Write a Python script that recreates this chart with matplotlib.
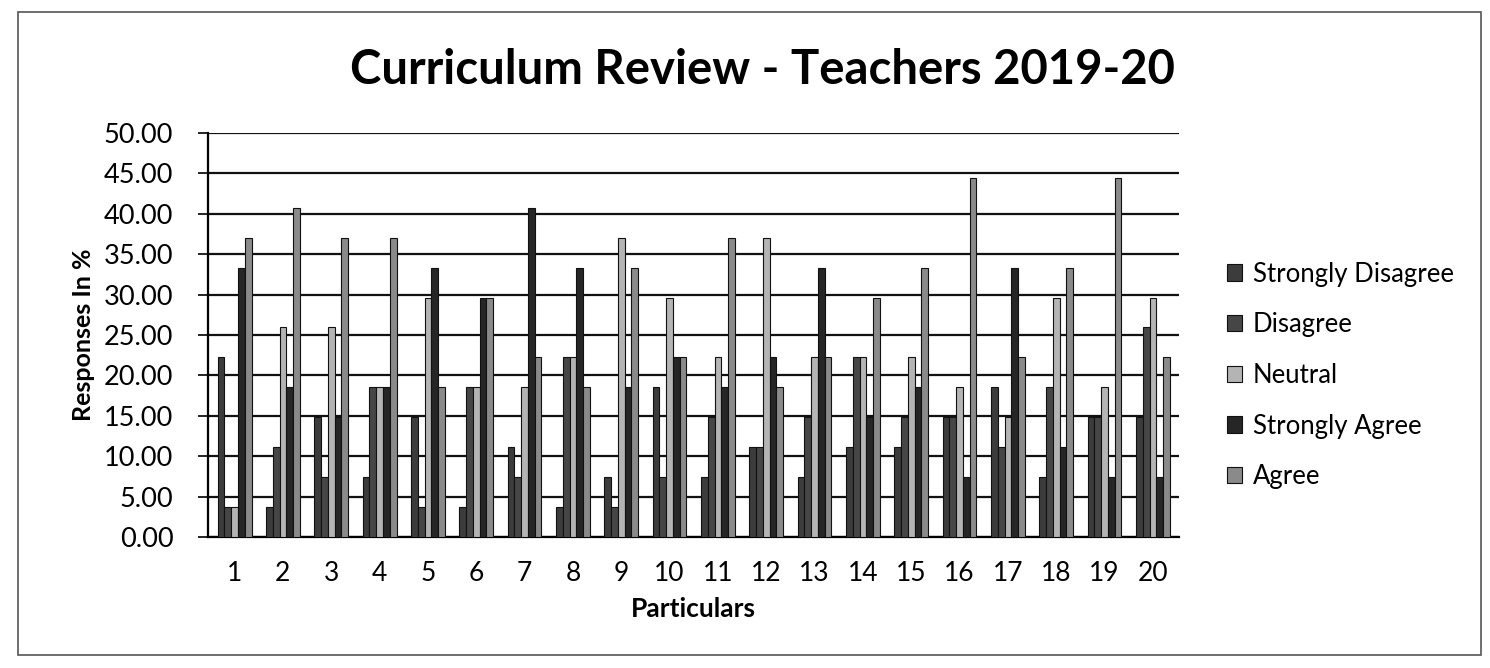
import matplotlib
matplotlib.use("Agg")
import matplotlib.pyplot as plt
import numpy as np

categories = [str(i) for i in range(1, 21)]
series_names = ["Strongly Disagree", "Disagree", "Neutral", "Strongly Agree", "Agree"]

strongly_disagree = [22.22, 3.70, 14.81, 7.41, 14.81, 3.70, 11.11, 3.70, 7.41, 18.52,
                     7.41, 11.11, 7.41, 11.11, 11.11, 14.81, 18.52, 7.41, 14.81, 14.81]
disagree = [3.70, 11.11, 7.41, 18.52, 3.70, 18.52, 7.41, 22.22, 3.70, 7.41,
            14.81, 11.11, 14.81, 22.22, 14.81, 14.81, 11.11, 18.52, 14.81, 25.93]
neutral = [3.70, 25.93, 25.93, 18.52, 29.63, 18.52, 18.52, 22.22, 37.04, 29.63,
           22.22, 37.04, 22.22, 22.22, 22.22, 18.52, 14.81, 29.63, 18.52, 29.63]
strongly_agree = [33.33, 18.52, 14.81, 18.52, 33.33, 29.63, 40.74, 33.33, 18.52, 22.22,
                  18.52, 22.22, 33.33, 14.81, 18.52, 7.41, 33.33, 11.11, 7.41, 7.41]
agree = [37.04, 40.74, 37.04, 37.04, 18.52, 29.63, 22.22, 18.52, 33.33, 22.22,
         37.04, 18.52, 22.22, 29.63, 33.33, 44.44, 22.22, 33.33, 44.44, 22.22]

series = [strongly_disagree, disagree, neutral, strongly_agree, agree]
colors = ["#3c3c3c", "#464646", "#b4b4b4", "#262626", "#8a8a8a"]

FONT = ["Lato", "DejaVu Sans"]
plt.rcParams["font.family"] = FONT

fig = plt.figure(figsize=(14.9, 6.68), dpi=100)
fig.patch.set_facecolor("white")
# outer frame
fig.add_artist(plt.Rectangle((0.012, 0.02), 0.982, 0.962, transform=fig.transFigure,
                             fill=False, edgecolor="#555555", linewidth=1.2))

ax = fig.add_axes([0.1396, 0.196, 0.652, 0.605])
x = np.arange(len(categories))
bw = 0.14
for i, (vals, c, name) in enumerate(zip(series, colors, series_names)):
    ax.bar(x + (i - 2) * bw, vals, width=bw, color=c, edgecolor="#111111",
           linewidth=0.8, label=name, zorder=3)

ax.set_ylim(0, 50)
ax.set_xlim(-0.55, len(categories) - 0.45)
ax.set_yticks(np.arange(0, 50.01, 5))
ax.set_yticklabels([f"{v:.2f}" for v in np.arange(0, 50.01, 5)], fontsize=19.5)
ax.set_xticks(x)
ax.set_xticklabels(categories, fontsize=19)
ax.tick_params(axis="x", length=0, pad=17)
ax.tick_params(axis="y", length=7, width=1.2, pad=18)
ax.yaxis.grid(True, color="#111111", linewidth=1.6, zorder=0)
ax.set_axisbelow(True)
for s in ["top", "right"]:
    ax.spines[s].set_visible(False)
ax.spines["left"].set_linewidth(1.6)
ax.spines["bottom"].set_linewidth(1.6)

ax.set_ylabel("Responses In %", fontsize=18, fontweight="bold", labelpad=6)
ax.set_xlabel("Particulars", fontsize=19, fontweight="bold", labelpad=8)

fig.text(0.512, 0.895, "Curriculum Review - Teachers 2019-20", ha="center", va="center",
         fontsize=34, fontweight="bold")

leg = ax.legend(loc="center left", bbox_to_anchor=(1.025, 0.40), frameon=False,
                fontsize=18.5, handlelength=0.6, handleheight=0.6, labelspacing=1.0,
                handletextpad=0.4)

fig.savefig("out.png", dpi=100, facecolor="white")
